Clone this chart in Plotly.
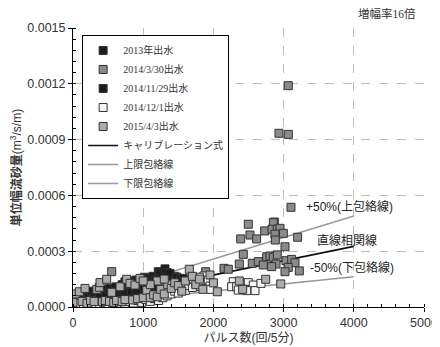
import plotly.graph_objects as go

# ---- data ----
s2013_x = [10, 30, 50, 70, 90, 110, 130, 150, 170, 190, 210, 230, 250, 270, 290, 310, 330, 350, 370, 390,
           420, 450, 480, 510, 540, 570, 600, 630, 660, 690, 720, 750, 780, 810, 840, 870, 900, 930, 960, 990,
           20, 60, 100, 140, 180, 220, 260, 300, 340, 380, 430, 470, 520, 560, 610, 650, 700, 740, 790, 830,
           880, 920, 970]
s2013_y = [0.000030, 0.000045, 0.000038, 0.000055, 0.000048, 0.000062, 0.000050, 0.000070, 0.000058, 0.000075,
           0.000060, 0.000068, 0.000055, 0.000072, 0.000063, 0.000080, 0.000066, 0.000074, 0.000060, 0.000082,
           0.000070, 0.000088, 0.000075, 0.000092, 0.000078, 0.000085, 0.000095, 0.000080, 0.000100, 0.000088,
           0.000105, 0.000092, 0.000110, 0.000098, 0.000115, 0.000100, 0.000120, 0.000105, 0.000125, 0.000110,
           0.000060, 0.000065, 0.000075, 0.000045, 0.000080, 0.000050, 0.000085, 0.000058, 0.000090, 0.000052,
           0.000095, 0.000060, 0.000100, 0.000065, 0.000108, 0.000070, 0.000090, 0.000075, 0.000125, 0.000080,
           0.000130, 0.000085, 0.000100]

s0330_x = [551, 3067, 2934, 3067, 3105, 2497, 2868, 2854, 2730, 2835, 2910, 2949, 2996, 2877, 2521, 2616, 2389,
           2882, 3200, 3020, 2426, 2151, 2212, 2369, 2554, 2640, 2711, 2759, 2806, 2853, 2910, 2892, 2830, 3034,
           3115, 3162, 3067, 3020, 3224, 1890, 1450]
s0330_y = [0.000190, 0.001190, 0.000934, 0.000928, 0.000536, 0.000445, 0.000457, 0.000453, 0.000409, 0.000418,
           0.000418, 0.000423, 0.000396, 0.000391, 0.000387, 0.000366, 0.000366, 0.000360, 0.000375, 0.000324,
           0.000283, 0.000208, 0.000203, 0.000231, 0.000235, 0.000244, 0.000226, 0.000270, 0.000274, 0.000267,
           0.000280, 0.000231, 0.000217, 0.000249, 0.000256, 0.000238, 0.000213, 0.000190, 0.000194, 0.000190,
           0.000165]

s1129_x = [700, 740, 780, 820, 860, 900, 940, 980, 1000, 1020, 1050, 1080, 1110, 1140, 1170, 1200, 1215, 1240,
           1270, 1311, 1340, 1382, 1420, 1480, 1530, 1571, 1000, 1100, 900, 1200]
s1129_y = [0.000120, 0.000135, 0.000125, 0.000140, 0.000130, 0.000145, 0.000135, 0.000150, 0.000125, 0.000160,
           0.000140, 0.000155, 0.000130, 0.000165, 0.000145, 0.000120, 0.000190, 0.000180, 0.000150, 0.000205,
           0.000185, 0.000181, 0.000140, 0.000160, 0.000150, 0.000154, 0.000095, 0.000100, 0.000090, 0.000105]

s1201_x = [0, 20, 60, 100, 150, 200, 260, 320, 380, 440, 500, 560, 620, 680, 740, 800, 860, 920, 980, 1040,
           1100, 1160, 1220, 1280, 1340, 1400, 1450, 1500, 1550, 1600, 1650, 1700, 1750, 1780, 1820, 1856, 1866,
           1880, 1927, 1952, 1960, 2284, 2260, 2331, 2355, 2426, 2497, 2568, 2593, 2678, 2450, 2474, 1800, 1720]
s1201_y = [0.000015, 0.000030, 0.000010, 0.000020, 0.000012, 0.000025, 0.000015, 0.000020, 0.000012, 0.000022,
           0.000015, 0.000025, 0.000018, 0.000028, 0.000020, 0.000030, 0.000022, 0.000035, 0.000025, 0.000040,
           0.000030, 0.000045, 0.000035, 0.000050, 0.000060, 0.000070, 0.000085, 0.000075, 0.000100, 0.000090,
           0.000115, 0.000105, 0.000125, 0.000140, 0.000110, 0.000127, 0.000167, 0.000100, 0.000145, 0.000113,
           0.000095, 0.000136, 0.000109, 0.000109, 0.000091, 0.000127, 0.000131, 0.000118, 0.000088, 0.000127,
           0.000095, 0.000088, 0.000160, 0.000150]

s0403_x = [0, 40, 90, 130, 171, 200, 250, 300, 340, 375, 385, 420, 460, 480, 520, 551, 580, 620, 670, 700,
           740, 765, 812, 850, 883, 920, 954, 1000, 1050, 1100, 1150, 1200, 1250, 1300, 1350, 1400, 1450, 1500,
           1550, 1600, 1657, 1700, 1750, 1800, 1850, 1952, 2000, 2056, 2369, 2417, 2745, 2959, 1200, 1300, 1100,
           1000]
s0403_y = [0.000025, 0.000070, 0.000082, 0.000030, 0.000100, 0.000020, 0.000035, 0.000030, 0.000095, 0.000106,
           0.000131, 0.000028, 0.000035, 0.000149, 0.000030, 0.000079, 0.000025, 0.000035, 0.000109, 0.000030,
           0.000040, 0.000149, 0.000127, 0.000038, 0.000118, 0.000045, 0.000154, 0.000050, 0.000090, 0.000050,
           0.000065, 0.000055, 0.000095, 0.000070, 0.000120, 0.000100, 0.000130, 0.000115, 0.000085, 0.000140,
           0.000203, 0.000165, 0.000120, 0.000150, 0.000095, 0.000172, 0.000130, 0.000082, 0.000140, 0.000095,
           0.000149, 0.000124, 0.000140, 0.000150, 0.000120, 0.000140]

line_x = [0, 4000]
calib_y = [0.000018, 0.000326]
upper_y = [0.000027, 0.000489]
lower_y = [0.000009, 0.000163]

series_names = ["2013年出水", "2014/3/30出水", "2014/11/29出水", "2014/12/1出水", "2015/4/3出水"]
line_names = ["キャリブレーション式", "上限包絡線", "下限包絡線"]

x_ticks = [0, 1000, 2000, 3000, 4000, 5000]
y_ticks = [0.0, 0.0003, 0.0006, 0.0009, 0.0012, 0.0015]

# ---- figure ----
SERIF = "Liberation Serif, Noto Sans CJK JP"
SANS = "Liberation Sans, Noto Sans CJK JP"

fig = go.Figure()

line_styles = [("#111111", calib_y), ("#999999", upper_y), ("#999999", lower_y)]
for i, (name, (col, ys)) in enumerate(zip(line_names, line_styles)):
    fig.add_trace(go.Scatter(x=line_x, y=ys, mode="lines", name=name,
                             line=dict(color=col, width=1.6), legendrank=10 + i))

marker_cols = ["#1c1c1c", "#8a8a8a", "#1c1c1c", "#f4f4f4", "#ababab"]
datasets = [(s2013_x, s2013_y), (s0330_x, s0330_y), (s1129_x, s1129_y), (s1201_x, s1201_y), (s0403_x, s0403_y)]
for i, (name, col, (xs, ys)) in enumerate(zip(series_names, marker_cols, datasets)):
    fig.add_trace(go.Scatter(x=xs, y=ys, mode="markers", name=name,
                             marker=dict(symbol="square", size=8, color=col,
                                         line=dict(color="#333333", width=1)),
                             legendrank=i + 1))

axis_common = dict(showline=True, linecolor="#000000", linewidth=1, mirror=False, automargin=False,
                   showgrid=True, gridcolor="#bdbdbd", griddash="dash", gridwidth=1,
                   zeroline=False, ticks="outside", ticklen=4, tickcolor="#000000",
                   tickfont=dict(family=SANS, size=12.5, color="#333333"))

fig.update_xaxes(range=[0, 5000], tickvals=x_ticks, **axis_common,
                 minor=dict(ticks="inside", ticklen=3, dtick=200, tickcolor="#000000", showgrid=False),
                 title=dict(text="パルス数(回/5分)", font=dict(family=SANS, size=12, color="#333333"), standoff=0))
fig.update_yaxes(range=[0, 0.0015], tickvals=y_ticks, tickformat=".4f", **axis_common,
                 minor=dict(ticks="inside", ticklen=3, dtick=0.00006, tickcolor="#000000", showgrid=False),
                 title=dict(text="<b>単位幅流砂量</b>(m<sup>3</sup>/s/m)",
                            font=dict(family=SANS, size=12, color="#333333"), standoff=6))

fig.add_annotation(x=4587, y=0.000538, xref="x", yref="y", text="+50%(上包絡線)", showarrow=False,
                   xanchor="right", yanchor="middle", font=dict(family=SANS, size=12, color="#222222"))
fig.add_annotation(x=3903, y=0.000360, xref="x", yref="y", text="直線相関線", showarrow=False,
                   xanchor="center", yanchor="middle", font=dict(family=SANS, size=12, color="#222222"))
fig.add_annotation(x=4601, y=0.000210, xref="x", yref="y", text="-50%(下包絡線)", showarrow=False,
                   xanchor="right", yanchor="middle", font=dict(family=SANS, size=12, color="#222222"))
fig.add_annotation(x=0.983, y=1.05, xref="paper", yref="paper", text="増幅率16倍", showarrow=False,
                   xanchor="right", yanchor="middle", font=dict(family=SERIF, size=11.5, color="#333333"))

# the page body adds an 8px offset, so the figure is 8px smaller and the margins are shifted by 8px
fig.update_layout(
    width=432, height=339,
    margin=dict(l=65, r=16, t=20, b=40, autoexpand=False),
    paper_bgcolor="white", plot_bgcolor="white",
    showlegend=True,
    legend=dict(x=0.026, y=0.975, xanchor="left", yanchor="top",
                bgcolor="white", bordercolor="#000000", borderwidth=1,
                font=dict(family=SERIF, size=10, color="#333333"),
                tracegroupgap=0, itemwidth=30),
)

fig.write_html("out.html")
